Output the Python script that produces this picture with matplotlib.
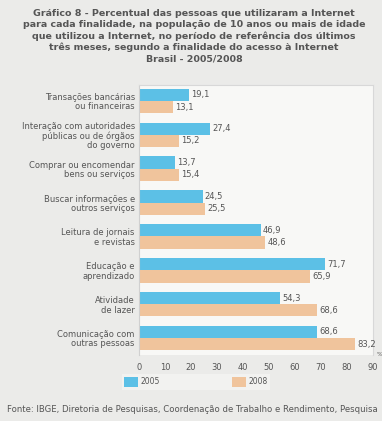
import matplotlib
matplotlib.use("Agg")
import matplotlib.pyplot as plt
from matplotlib.patches import Patch

categories = [
    "Transações bancárias\nou financeiras",
    "Interação com autoridades\npúblicas ou de órgãos\ndo governo",
    "Comprar ou encomendar\nbens ou serviços",
    "Buscar informações e\noutros serviços",
    "Leitura de jornais\ne revistas",
    "Educação e\naprendizado",
    "Atividade\nde lazer",
    "Comunicação com\noutras pessoas",
]
v2005 = [19.1, 27.4, 13.7, 24.5, 46.9, 71.7, 54.3, 68.6]
v2008 = [13.1, 15.2, 15.4, 25.5, 48.6, 65.9, 68.6, 83.2]
series_labels = ["2005", "2008"]
xticks = [0, 10, 20, 30, 40, 50, 60, 70, 80, 90]

title = ("Gráfico 8 - Percentual das pessoas que utilizaram a Internet\n"
         "para cada finalidade, na população de 10 anos ou mais de idade\n"
         "que utilizou a Internet, no período de referência dos últimos\n"
         "três meses, segundo a finalidade do acesso à Internet\n"
         "Brasil - 2005/2008")
source = "Fonte: IBGE, Diretoria de Pesquisas, Coordenação de Trabalho e Rendimento, Pesquisa"

blue = "#5cc0e6"
orange = "#f0c49c"
txt = "#555555"
W, H = 382, 421
fig = plt.figure(figsize=(W/100, H/100), dpi=100)
fig.patch.set_facecolor("#ebebe9")

ax = fig.add_axes([139/W, 1-355/H, 234/W, 270/H])
ax.set_facecolor("#f8f8f6")
ys = list(range(len(categories)))
bh = 0.36
ax.barh([y - bh/2 for y in ys], v2005, height=bh, color=blue)
ax.barh([y + bh/2 for y in ys], v2008, height=bh, color=orange)
for y, a, b in zip(ys, v2005, v2008):
    ax.text(a + 0.8, y - bh/2, f"{a:.1f}".replace(".", ","), va="center", ha="left", fontsize=6, color=txt)
    ax.text(b + 0.8, y + bh/2, f"{b:.1f}".replace(".", ","), va="center", ha="left", fontsize=6, color=txt)
ax.set_xlim(0, 90)
ax.set_ylim(7.5, -0.47)
ax.set_yticks(ys)
ax.set_yticklabels(categories, fontsize=6, color=txt, linespacing=1.05)
ax.set_xticks(xticks)
ax.set_xticklabels([str(t) for t in xticks], fontsize=6, color=txt)
ax.tick_params(length=0, pad=3)
ax.tick_params(axis="x", pad=6)
for s in ["top", "right"]:
    ax.spines[s].set_color("#d8d8d8")
    ax.spines[s].set_linewidth(0.8)
ax.spines["bottom"].set_visible(False)
ax.spines["left"].set_color("#d0d0d0")
ax.text(91.5, 7.5, "%", fontsize=4.5, color=txt, va="center")

fig.text(194/W, 1-9/H, title, ha="center", va="top", fontsize=6.8, color=txt,
         fontweight="semibold", linespacing=1.28)

handles = [Patch(facecolor=blue), Patch(facecolor=orange)]
leg = fig.legend(handles, series_labels, loc="center", bbox_to_anchor=(196/W, 1-382/H),
                 ncol=2, fontsize=5.5, frameon=True, fancybox=False,
                 handlelength=1.8, handleheight=1.8, columnspacing=9.5, handletextpad=0.3,
                 borderpad=0.35)
leg.get_frame().set_facecolor("#f4f4f2")
leg.get_frame().set_edgecolor("none")
for t in leg.get_texts():
    t.set_color(txt)

fig.text(7/W, 1-409/H, source, ha="left", va="center", fontsize=6.1, color=txt)

fig.savefig("out.png", dpi=100, facecolor=fig.get_facecolor())
